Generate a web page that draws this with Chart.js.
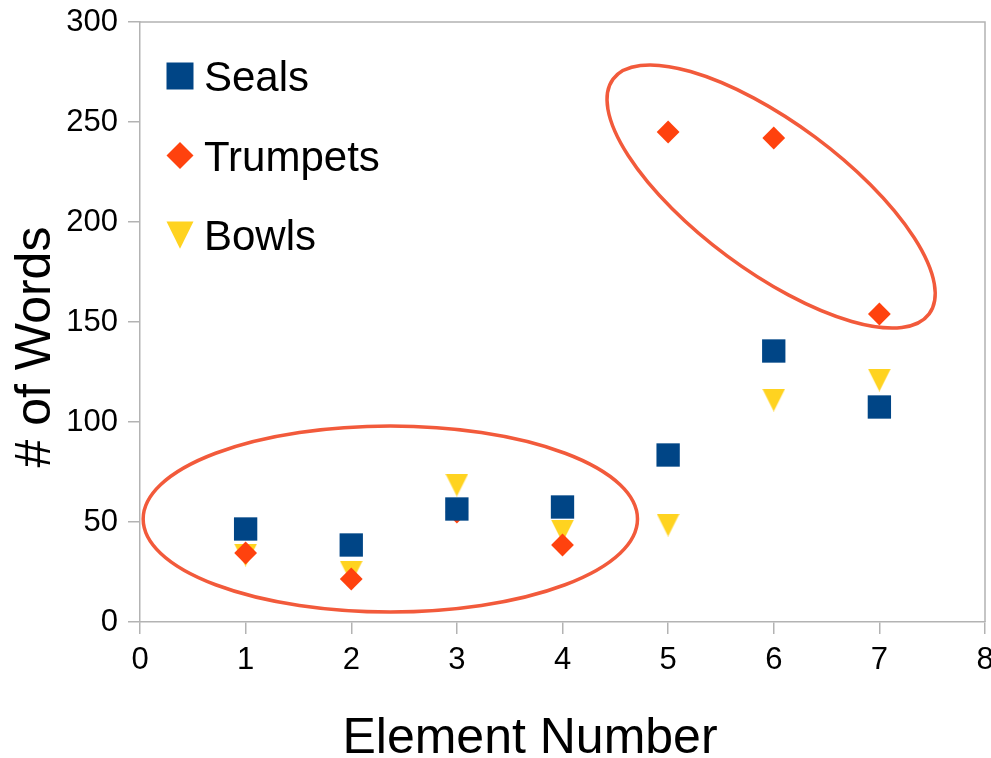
<!DOCTYPE html>
<html>
<head>
<meta charset="utf-8">
<script src="https://cdn.jsdelivr.net/npm/chart.js@4.4.0/dist/chart.umd.min.js"></script>
<style>
html,body{margin:0;padding:0;background:#fff;}
#wrap{width:991px;height:758px;position:relative;}
</style>
</head>
<body>
<div id="wrap"><canvas id="c" width="991" height="758"></canvas></div>
<script>
// ---- data ----
const elementNumbers = [1, 2, 3, 4, 5, 6, 7];
const seals    = [46.5, 38.5, 56.5, 57.5, 83.5, 135.5, 107.5];
const trumpets = [34.5, 21.5, 55, 38.5, 245, 242, 154];
const bowls    = [33.5, 25, 68.5, 45.5, 48.5, 111, 121];
const seriesNames = ['Seals', 'Trumpets', 'Bowls'];
const xAxisTitle = 'Element Number';
const yAxisTitle = '# of Words';
const xMin = 0, xMax = 8, xStep = 1;
const yMin = 0, yMax = 300, yStep = 50;

// ellipse annotations (centre in data units)
const ellipseCentreX = [2.37, 5.975];
const ellipseCentreY = [51.5, 212.75];

// ---- styles ----
const FONT = '"Liberation Sans", Arial, sans-serif';
const colors = ['#004586', '#ff420e', '#ffd320'];
const axisGray = '#b3b3b3';
const ellipseColor = '#f25a3b';

function makeTriangle(w, h, color) {
  const c = document.createElement('canvas');
  c.width = w; c.height = h;
  const g = c.getContext('2d');
  g.fillStyle = color;
  g.beginPath();
  g.moveTo(0, 0); g.lineTo(w, 0); g.lineTo(w / 2, h); g.closePath();
  g.fill();
  return c;
}
const triImg = makeTriangle(23, 23, colors[2]);

function toPoints(xs, ys) { return xs.map((x, i) => ({x: x, y: ys[i]})); }

const overlay = {
  id: 'overlay',
  beforeDatasetsDraw(chart) {
    const ctx = chart.ctx, xs = chart.scales.x, ys = chart.scales.y;
    ctx.save();
    ctx.strokeStyle = ellipseColor;
    ctx.lineWidth = 3.5;
    {
      const cx = xs.getPixelForValue(ellipseCentreX[0]);
      const cy = ys.getPixelForValue(ellipseCentreY[0]);
      const rx = xs.getPixelForValue(ellipseCentreX[0] + 2.34) - cx;
      const ry = cy - ys.getPixelForValue(ellipseCentreY[0] + 46.5);
      ctx.beginPath(); ctx.ellipse(cx, cy, rx, ry, 0, 0, Math.PI * 2); ctx.stroke();
    }
    {
      const cx = xs.getPixelForValue(ellipseCentreX[1]);
      const cy = ys.getPixelForValue(ellipseCentreY[1]);
      const unit = xs.getPixelForValue(1) - xs.getPixelForValue(0);
      ctx.beginPath(); ctx.ellipse(cx, cy, 1.864 * unit, 0.70 * unit, 36.6 * Math.PI / 180, 0, Math.PI * 2); ctx.stroke();
    }
    ctx.restore();
  },
  afterDraw(chart) {
    const ctx = chart.ctx, a = chart.chartArea;
    ctx.save();
    ctx.strokeStyle = axisGray; ctx.lineWidth = 1.5;
    ctx.beginPath();
    ctx.moveTo(a.left, a.top); ctx.lineTo(a.right, a.top); ctx.lineTo(a.right, a.bottom);
    ctx.stroke();
    ctx.font = '42px ' + FONT;
    ctx.textBaseline = 'alphabetic';
    ctx.textAlign = 'left';
    chart.data.datasets.forEach((ds, i) => {
      const mx = a.left + 40, my = a.top + 54 + i * 79.5;
      ctx.fillStyle = ds.backgroundColor;
      ctx.beginPath();
      if (i === 0) { ctx.rect(mx - 13.5, my - 13.5, 27, 27); }
      else if (i === 1) { ctx.moveTo(mx - 13.5, my); ctx.lineTo(mx, my - 13.5); ctx.lineTo(mx + 13.5, my); ctx.lineTo(mx, my + 13.5); ctx.closePath(); }
      else { ctx.moveTo(mx - 13.5, my - 13.5); ctx.lineTo(mx + 13.5, my - 13.5); ctx.lineTo(mx, my + 13.8); ctx.closePath(); }
      ctx.fill();
      ctx.fillStyle = '#000';
      ctx.fillText(ds.label, mx + 24, my + 15);
    });
    ctx.font = '50px ' + FONT;
    ctx.textAlign = 'center';
    ctx.fillText(xAxisTitle, 530, 753);
    ctx.save();
    ctx.translate(50, 347);
    ctx.rotate(-Math.PI / 2);
    ctx.fillText(yAxisTitle, 0, 0);
    ctx.restore();
    ctx.restore();
  }
};

const chart = new Chart(document.getElementById('c'), {
  type: 'scatter',
  data: {
    datasets: [
      {label: seriesNames[0], data: toPoints(elementNumbers, seals), backgroundColor: colors[0], borderColor: colors[0],
       pointStyle: 'rect', pointRadius: 16.5, pointBorderWidth: 0, pointHoverRadius: 16.5},
      {label: seriesNames[1], data: toPoints(elementNumbers, trumpets), backgroundColor: colors[1], borderColor: colors[1],
       pointStyle: 'rectRot', pointRadius: 11.4, pointBorderWidth: 0, pointHoverRadius: 11.4},
      {label: seriesNames[2], data: toPoints(elementNumbers, bowls), backgroundColor: colors[2], borderColor: colors[2],
       pointStyle: triImg, pointRadius: 12, pointBorderWidth: 0}
    ]
  },
  options: {
    responsive: false,
    animation: false,
    devicePixelRatio: 1,
    layout: {autoPadding: false, padding: {top: 22, right: 6, left: 0, bottom: 0}},
    plugins: {legend: {display: false}, tooltip: {enabled: false}, title: {display: false}},
    scales: {
      x: {
        type: 'linear', min: xMin, max: xMax,
        afterFit: s => { s.height = 136; s.paddingLeft = 0; s.paddingRight = 0; },
        ticks: {stepSize: xStep, color: '#000', padding: 8, font: {family: FONT, size: 31}},
        grid: {drawOnChartArea: false, drawTicks: true, tickLength: 12, color: axisGray, lineWidth: 1.5},
        border: {color: axisGray, width: 1.5},
        title: {display: false}
      },
      y: {
        type: 'linear', min: yMin, max: yMax,
        afterFit: s => { s.width = 140; s.paddingTop = 0; s.paddingBottom = 0; },
        ticks: {stepSize: yStep, color: '#000', padding: 10, font: {family: FONT, size: 31}},
        grid: {drawOnChartArea: false, drawTicks: true, tickLength: 12, color: axisGray, lineWidth: 1.5},
        border: {color: axisGray, width: 1.5},
        title: {display: false}
      }
    }
  },
  plugins: [overlay]
});
</script>
</body>
</html>
